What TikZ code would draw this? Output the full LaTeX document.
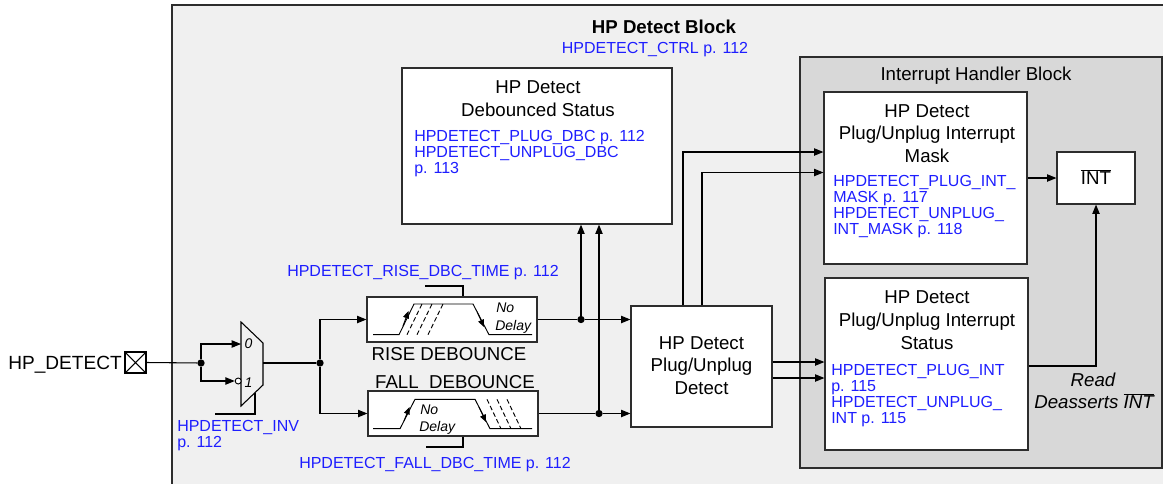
\documentclass[tikz,border=0pt]{standalone}
\usepackage{fontspec}
\setmainfont{Liberation Sans}
\usetikzlibrary{arrows.meta,fit,calc}
\definecolor{reglink}{RGB}{30,30,255}
\definecolor{outerfill}{RGB}{240,240,240}
\definecolor{ihfill}{RGB}{216,216,216}
\definecolor{edgecol}{RGB}{45,45,45}
\begin{document}
\begin{tikzpicture}[x=0.75pt,y=-0.75pt,
  wire/.style={line width=0.8pt, draw=black},
  arr/.style={wire, -{Triangle[length=7pt,width=5.5pt]}},
  smallarr/.style={wire, -{Triangle[length=5.5pt,width=4.5pt]}},
  box/.style={draw=edgecol, line width=0.9pt, fill=white, inner sep=0pt},
  lbl/.style={font=\fontsize{14}{17}\selectfont, inner sep=0pt, align=center},
  reg/.style={font=\fontsize{12}{12}\selectfont, text=reglink, inner sep=0pt, align=left},
  small/.style={font=\fontsize{10.5}{12}\selectfont\itshape, inner sep=0pt},
  dot/.style={circle, fill=black, inner sep=0pt, minimum size=5.5pt},
  dashw/.style={wire, dash pattern=on 3.5pt off 2pt},
]
\useasboundingbox (0,0) rectangle (1163,483);
\begin{scope}
\clip (0,0) rectangle (1163,483);
% outer block
\node[draw=edgecol, line width=1.1pt, fill=outerfill, inner sep=0pt, fit={(172,5)(1175,495)}] (hpblock) {};
% interrupt handler block
\node[draw=edgecol, line width=1.1pt, fill=ihfill, inner sep=0pt, fit={(800,57)(1162,468)}] (ihblock) {};
\end{scope}

\node[font=\fontsize{14}{17}\selectfont\bfseries, inner sep=0pt, anchor=base] (title) at (664,33.7) {HP Detect Block};
\node[reg, anchor=base] (ctrl) at (655,53.7) {HPDETECT\_CTRL p. 112};
\node[lbl, anchor=base] (ihtitle) at (976,80.7) {Interrupt Handler Block};

% boxes
\node[box, fit={(402,68)(672,224)}] (dbs) {};
\node[lbl] (dbst) at (538,98.5) {HP Detect\\Debounced Status};
\node[reg, anchor=north west] (dbsr) at (414,130.5) {HPDETECT\_PLUG\_DBC p. 112\\HPDETECT\_UNPLUG\_DBC\\p. 113};

\node[box, fit={(824,92)(1027,264)}] (mask) {};
\node[lbl] (maskt) at (927,133.5) {HP Detect\\Plug/Unplug Interrupt\\Mask};
\node[reg, anchor=north west] (maskr) at (833,175.5) {HPDETECT\_PLUG\_INT\_\\MASK p. 117\\HPDETECT\_UNPLUG\_\\INT\_MASK p. 118};

\node[box, fit={(825,278)(1028,450)}] (stat) {};
\node[lbl] (statt) at (927,320) {HP Detect\\Plug/Unplug Interrupt\\Status};
\node[reg, anchor=north west] (statr) at (831,364.5) {HPDETECT\_PLUG\_INT\\p. 115\\HPDETECT\_UNPLUG\_\\INT p. 115};

\node[box, fit={(1057,152)(1135,204)}] (int) {};
\node[lbl, anchor=base] (intt) at (1096,184.7) {$\overline{\hbox{INT}}$};

\node[box, fit={(631,306)(772,427)}] (det) {};
\node[lbl] (dett) at (701.5,365.5) {HP Detect\\Plug/Unplug\\Detect};

\node[box, fit={(367,297)(537,342)}] (rise) {};
\node[box, fit={(368,391)(538,436)}] (fall) {};

\node[lbl, anchor=base] (riset) at (449,360.7) {RISE DEBOUNCE};
\node[lbl, anchor=base] (fallt) at (455,388.7) {FALL\ \ DEBOUNCE};
\node[reg, anchor=base] (riser) at (423,276.7) {HPDETECT\_RISE\_DBC\_TIME p. 112};
\node[reg, anchor=base] (fallr) at (435,468.7) {HPDETECT\_FALL\_DBC\_TIME p. 112};

% input pad
\node[lbl, anchor=base east, font=\fontsize{14.3}{17}\selectfont] (hpin) at (122,369.7) {HP\_DETECT};
\node[draw=black, line width=0.8pt, fill=white, minimum size=15.75pt, inner sep=0pt] (pad) at (135.5,362.5) {};
\draw[wire] (pad.north west) -- (pad.south east) (pad.north east) -- (pad.south west);

% mux
\draw[wire] (241,322) -- (263,343) -- (263,385) -- (241,406) -- cycle;
\coordinate (muxin0) at (241,344);
\coordinate (muxout) at (263,363);
\coordinate (muxsel) at (255,392.6);
\coordinate (selend) at (215,414);
\node[circle, draw=black, line width=0.7pt, fill=white, inner sep=0pt, minimum size=4.5pt] (bub) at (238.2,381) {};
\node[small, anchor=base] (m0) at (248.5,348) {0};
\node[small, anchor=base] (m1) at (248.5,387) {1};
\node[reg, anchor=north west] (invr) at (177,420) {HPDETECT\_INV\\p. 112};

% junctions
\node[dot] (j0) at (201,363) {};
\node[dot] (j1) at (320,363) {};
\node[dot] (j2) at (581,319.5) {};
\node[dot] (j3) at (599,413.5) {};

\draw[wire] (pad.east) -- (j0);
\draw[arr] (j0) |- (muxin0);
\draw[arr] (j0) |- (bub.west);
\draw[wire] (muxsel) |- (selend);
\draw[wire] (muxout) -- (j1);
\draw[arr] (j1) |- (rise.west);
\draw[arr] (j1) |- (fall.west);

% debounce select lines
\coordinate (rsel) at (425,286);
\coordinate (fsel) at (426,447);
\draw[wire] (rise.north -| 463,0) |- (rsel);
\draw[wire] (fall.south -| 463,0) |- (fsel);

% debounce outputs
\draw[wire] (rise.east) -- (j2);
\draw[arr] (j2) -- (j2 -| det.west);
\draw[wire] (fall.east) -- (j3);
\draw[arr] (j3) -- (j3 -| det.west);
\draw[arr] (j2) -- (j2 |- dbs.south);
\draw[arr] (j3) -- (j3 |- dbs.south);

% detect to interrupt handler
\coordinate (u1) at (683,0);
\coordinate (u2) at (702,0);
\coordinate (r1) at (0,152);
\coordinate (r2) at (0,172.5);
\coordinate (r3) at (0,362);
\coordinate (r4) at (0,378);
\coordinate (r5) at (0,366);
\draw[arr] (det.north -| u1) |- (r1 -| mask.west);
\draw[arr] (det.north -| u2) |- (r2 -| mask.west);
\draw[arr] (det.east |- r3) -- (r3 -| stat.west);
\draw[arr] (det.east |- r4) -- (r4 -| stat.west);
\draw[arr] (mask.east |- int.west) -- (int.west);
\draw[arr] (stat.east |- r5) -| (int.south);

\node[lbl, anchor=base, font=\fontsize{14}{17}\selectfont\itshape] (rd1) at (1093,386.7) {Read};
\node[lbl, anchor=base, font=\fontsize{14}{17}\selectfont\itshape] (rd2) at (1094,408.7) {Deasserts $\overline{\hbox{\itshape INT}}$};

% rise waveform
\draw[wire, line width=0.7pt] (373,334.7) -- (399,334.7) -- (414,304) -- (473,304) -- (489,334.7) -- (532,334.7);
\draw[dashw, line width=0.7pt] (407,334.7) -- (422,304);
\draw[dashw, line width=0.7pt] (417,334.7) -- (432,304);
\draw[dashw, line width=0.7pt] (428,334.7) -- (443,304);
\draw[smallarr, line width=0.7pt] (403,326) -- (408.5,311);
\draw[smallarr, line width=0.7pt] (477,311.5) -- (484,327);
\node[small, anchor=base west] (rno) at (496,312.8) {No};
\node[small, anchor=base west] (rdl) at (495,330.8) {Delay};

% fall waveform
\draw[wire, line width=0.7pt] (373,428.7) -- (400,428.7) -- (415,399.3) -- (475,399.3) -- (490,428.7) -- (532,428.7);
\draw[dashw, line width=0.7pt] (487,399.3) -- (501,428.7);
\draw[dashw, line width=0.7pt] (497,399.3) -- (511,428.7);
\draw[dashw, line width=0.7pt] (507,399.3) -- (521,428.7);
\draw[smallarr, line width=0.7pt] (404,421) -- (409.5,407);
\draw[smallarr, line width=0.7pt] (479,407) -- (486,422);
\node[small, anchor=base west] (fno) at (420,414.8) {No};
\node[small, anchor=base west] (fdl) at (419,431.5) {Delay};
\end{tikzpicture}
\end{document}
